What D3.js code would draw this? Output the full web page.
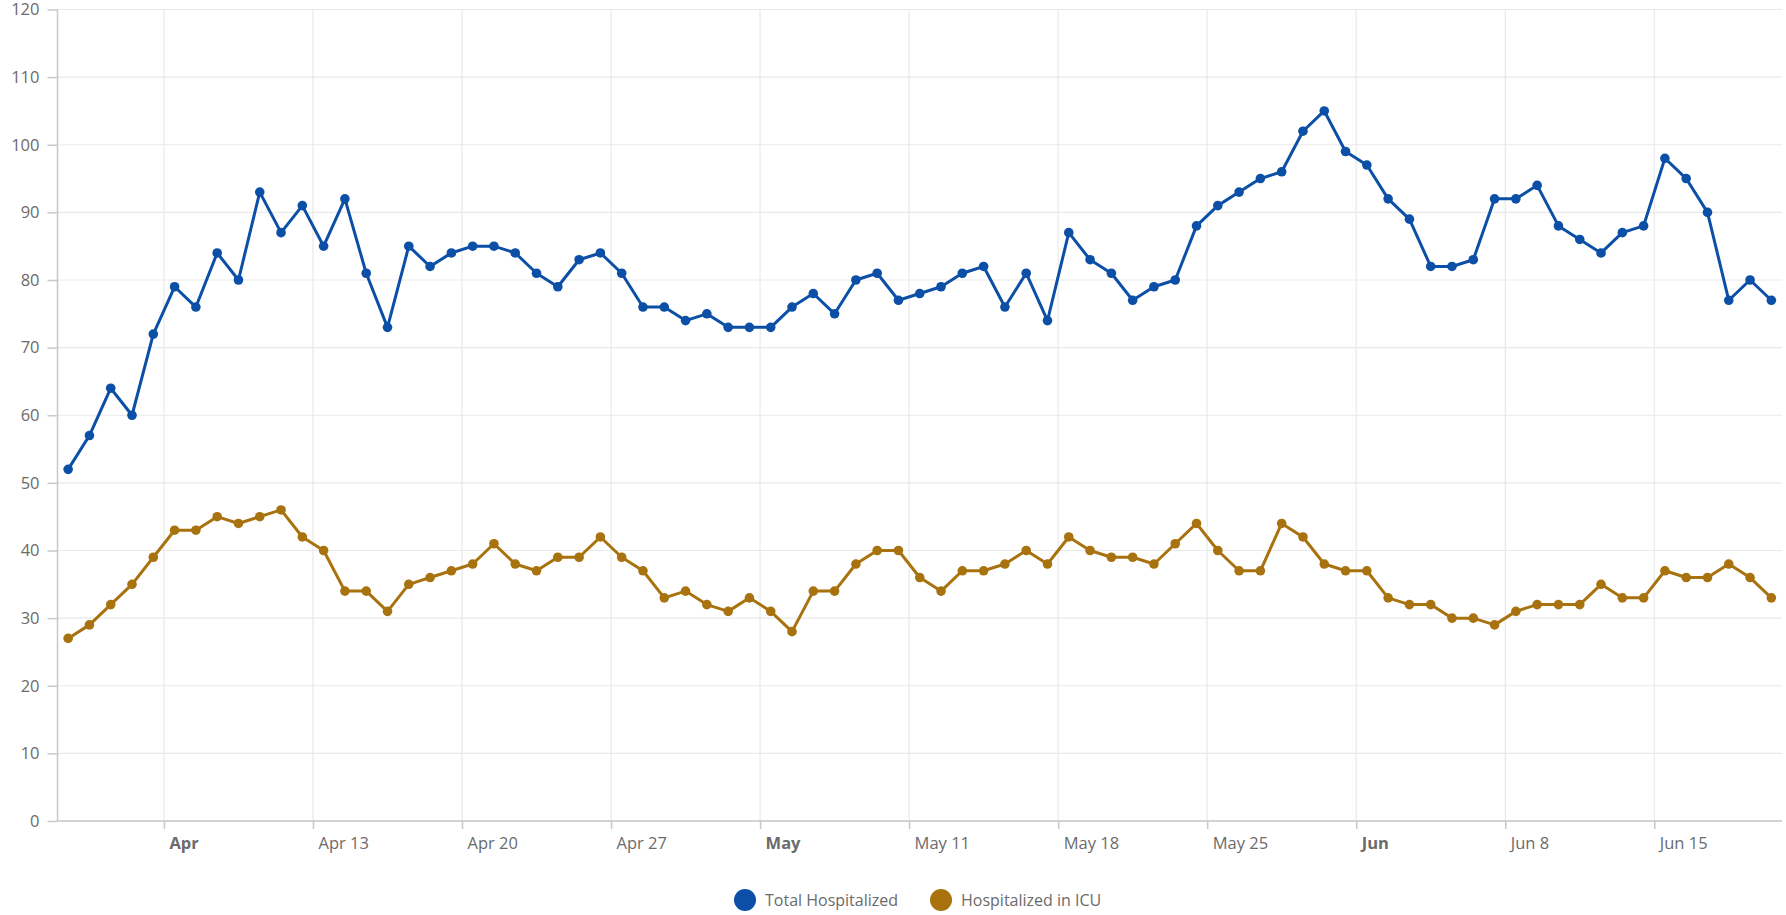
<!DOCTYPE html>
<html>
<head>
<meta charset="utf-8">
<script src="https://cdn.jsdelivr.net/npm/d3@7"></script>
<style>
  body { margin: 0; background: #fff; }
  svg { display: block; font-family: "Open Sans", sans-serif; }
</style>
</head>
<body>
<svg id="chart"></svg>
<script>
// daily values, Apr 1 .. Jun 20 2020
var firstDay = "2020-04-01",
    lastDay = "2020-06-21";

var totalHospitalized = [
  52, 57, 64, 60, 72, 79, 76, 84, 80, 93,
  87, 91, 85, 92, 81, 73, 85, 82, 84, 85,
  85, 84, 81, 79, 83, 84, 81, 76, 76, 74,
  75, 73, 73, 73, 76, 78, 75, 80, 81, 77,
  78, 79, 81, 82, 76, 81, 74, 87, 83, 81,
  77, 79, 80, 88, 91, 93, 95, 96, 102, 105, 99,
  97, 92, 89, 82, 82, 83, 92, 92, 94, 88,
  86, 84, 87, 88, 98, 95, 90, 77, 80, 77
];

var hospitalizedICU = [
  27, 29, 32, 35, 39, 43, 43, 45, 44, 45,
  46, 42, 40, 34, 34, 31, 35, 36, 37, 38,
  41, 38, 37, 39, 39, 42, 39, 37, 33, 34,
  32, 31, 33, 31, 28, 34, 34, 38, 40, 40,
  36, 34, 37, 37, 38, 40, 38, 42, 40, 39,
  39, 38, 41, 44, 40, 37, 37, 44, 42, 38, 37,
  37, 33, 32, 32, 30, 30, 29, 31, 32, 32,
  32, 35, 33, 33, 37, 36, 36, 38, 36, 33
];

var seriesNames = ["Total Hospitalized", "Hospitalized in ICU"];
var seriesColors = ["#0b4fa6", "#a8720f"];

var width = 1786, height = 915;
var margin = {top: 9.5, right: 4, bottom: 94, left: 57.5};

var svg = d3.select("#chart").attr("width", width).attr("height", height);

var parse = d3.utcParse("%Y-%m-%d");
var days = d3.utcDay.range(parse(firstDay), parse(lastDay));

var x = d3.scaleUtc()
  .domain([parse(firstDay), parse(lastDay)])
  .range([margin.left, width - margin.right]);

var y = d3.scaleLinear()
  .domain([0, 120])
  .range([height - margin.bottom, margin.top]);

var weekTicks = d3.utcMonday.range(parse(firstDay), parse(lastDay));
var yTicks = d3.range(0, 121, 10);

// grid
svg.append("g").selectAll("line.h")
  .data(yTicks)
  .enter().append("line")
  .attr("x1", margin.left).attr("x2", width - margin.right)
  .attr("y1", function(d) { return y(d); })
  .attr("y2", function(d) { return y(d); })
  .attr("stroke", "#e9e9e9").attr("stroke-width", 1.2);

svg.append("g").selectAll("line.v")
  .data(weekTicks)
  .enter().append("line")
  .attr("x1", function(d) { return x(d); })
  .attr("x2", function(d) { return x(d); })
  .attr("y1", margin.top).attr("y2", height - margin.bottom)
  .attr("stroke", "#e9e9e9").attr("stroke-width", 1.2);

// y axis
var yAxis = svg.append("g")
  .attr("transform", "translate(" + margin.left + ",0)")
  .call(d3.axisLeft(y).tickValues(yTicks).tickSize(10).tickPadding(8));

// x axis, month label when month changes
var prevMonth = null;
var isMonthStart = weekTicks.map(function(d) {
  var m = d.getUTCMonth(), first = m !== prevMonth;
  prevMonth = m;
  return first;
});
var fmtMonth = d3.utcFormat("%b"), fmtDay = d3.utcFormat("%b %-d");

var xAxis = svg.append("g")
  .attr("transform", "translate(0," + (height - margin.bottom) + ")")
  .call(d3.axisBottom(x).tickValues(weekTicks).tickSize(8).tickPadding(8)
    .tickFormat(function(d, i) { return isMonthStart[i] ? fmtMonth(d) : fmtDay(d); }));

xAxis.selectAll(".tick text")
  .attr("text-anchor", "start")
  .attr("dx", 5)
  .style("font-weight", function(d, i) { return isMonthStart[i] ? "bold" : "normal"; });

[yAxis, xAxis].forEach(function(a) {
  a.select(".domain").attr("stroke", "#c8c8c8").attr("stroke-width", 1.5);
  a.selectAll(".tick line").attr("stroke", "#c8c8c8").attr("stroke-width", 1.5);
  a.selectAll(".tick text").attr("fill", "#6b6b6b").style("font-size", "16.5px")
    .style("font-family", "'Open Sans', sans-serif");
});
yAxis.select(".domain").attr("d", "M0," + margin.top + "V" + (height - margin.bottom));
xAxis.select(".domain").attr("d", "M" + margin.left + ",0H" + (width - margin.right));

// series
var series = [totalHospitalized, hospitalizedICU].map(function(vals, k) {
  return {
    name: seriesNames[k],
    color: seriesColors[k],
    points: vals.map(function(v, i) { return {date: d3.utcHour.offset(days[i], 12), value: v}; })
  };
});

var line = d3.line()
  .x(function(d) { return x(d.date); })
  .y(function(d) { return y(d.value); });

var sg = svg.append("g").selectAll("g.series")
  .data(series)
  .enter().append("g");

sg.append("path")
  .attr("d", function(d) { return line(d.points); })
  .attr("fill", "none")
  .attr("stroke", function(d) { return d.color; })
  .attr("stroke-width", 3)
  .attr("stroke-linejoin", "round");

sg.selectAll("circle")
  .data(function(d) { return d.points.map(function(p) { return {p: p, color: d.color}; }); })
  .enter().append("circle")
  .attr("cx", function(d) { return x(d.p.date); })
  .attr("cy", function(d) { return y(d.p.value); })
  .attr("r", 4.8)
  .attr("fill", function(d) { return d.color; });

// legend
var legendX = [745, 941];
var legend = svg.append("g").selectAll("g.leg")
  .data(series)
  .enter().append("g")
  .attr("transform", function(d, i) { return "translate(" + legendX[i] + ",900)"; });

legend.append("circle").attr("r", 11).attr("fill", function(d) { return d.color; });
legend.append("text")
  .attr("x", 20).attr("dy", "0.35em")
  .attr("fill", "#6b6b6b")
  .style("font-size", "16px")
  .text(function(d) { return d.name; });
</script>
</body>
</html>
